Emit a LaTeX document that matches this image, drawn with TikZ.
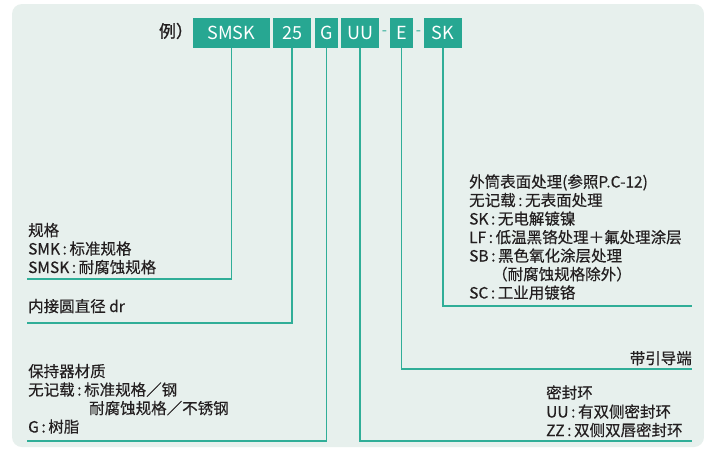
\documentclass[tikz,border=0pt]{standalone}
\usepackage{fontspec}
\setmainfont{Noto Sans CJK SC}
\newfontfamily\medfont{Noto Sans CJK SC}[FakeBold=0.35]
\newfontfamily\boldfont{Noto Sans CJK SC}[FakeBold=1.2]
\definecolor{panelbg}{HTML}{E7F0ED}
\definecolor{boxteal}{HTML}{27A792}
\definecolor{lineteal}{HTML}{30AE98}
\definecolor{textdark}{HTML}{231F20}
\begin{document}
\begin{tikzpicture}[x=1pt,y=-1pt,
  codebox/.style={fill=boxteal, text=white, inner sep=0pt, minimum height=30pt,
    font=\fontsize{18}{18}\selectfont, anchor=center},
  desc/.style={anchor=base west, inner sep=0pt, font=\medfont\fontsize{15.5}{18.5}\selectfont, text=textdark},
  descr/.style={desc, anchor=base east},
  dashtxt/.style={inner sep=0pt, font=\fontsize{15}{15}\selectfont, text=lineteal, anchor=center},
  leader/.style={draw=lineteal, line width=1.6pt}]
\useasboundingbox (0,0) rectangle (704,451);
\fill[white] (0,0) rectangle (704,451);
\fill[panelbg, rounded corners=10pt] (12,4) rectangle (704,447);

% code boxes
\node[desc, anchor=center, font=\boldfont\fontsize{17}{17}\selectfont] (ex) at (176,31) {例）};
\node[codebox, minimum width=77pt] (bSMSK) at (231.5,33) {SMSK};
\node[codebox, minimum width=38pt] (b25) at (292,33) {25};
\node[codebox, minimum width=23pt] (bG) at (326.5,33) {G};
\node[codebox, minimum width=38pt] (bUU) at (360,33) {UU};
\node[dashtxt] (d1) at (384.5,33) {-};
\node[codebox, minimum width=23pt] (bE) at (401.5,33) {E};
\node[dashtxt] (d2) at (418.5,33) {-};
\node[codebox, minimum width=38pt] (bSK) at (443,33) {SK};

% line end coordinates
\coordinate (c1) at (27,279);
\coordinate (c2) at (27,323);
\coordinate (c3) at (27,441);
\coordinate (c4) at (692,441);
\coordinate (c5) at (692,369);
\coordinate (c6) at (692,306);

\draw[leader] (bSMSK.south) |- (c1);
\draw[leader] (b25.south) |- (c2);
\draw[leader] (bG.south) |- (c3);
\draw[leader] (bUU.south) |- (c4);
\draw[leader] (bE.south) |- (c5);
\draw[leader] (bSK.south) |- (c6);

% left groups
\node[desc] (t11) at (28,236) {规格};
\node[desc] (t12) at (28,254.5) {SMK\,:\,标准规格};
\node[desc] (t13) at (28,273) {SMSK\,:\,耐腐蚀规格};

\node[desc] (t21) at (28,312) {内接圆直径 dr};

\node[desc] (t31) at (28,377) {保持器材质};
\node[desc] (t32) at (28,395.5) {无记载\,:\,标准规格／钢};
\node[desc] (t33) at (89,414) {耐腐蚀规格／不锈钢};
\node[desc] (t34) at (28,432.5) {G\,:\,树脂};

% right groups
\node[desc] (r1) at (469,187.5) {外筒表面处理(参照P.C-12)};
\node[desc] (r2) at (469,206) {无记载\,:\,无表面处理};
\node[desc] (r3) at (469,224.5) {SK\,:\,无电解镀镍};
\node[desc] (r4) at (469,243) {LF\,:\,低温黑铬处理＋氟处理涂层};
\node[desc] (r5) at (469,261.5) {SB\,:\,黑色氧化涂层处理};
\node[desc] (r6) at (492,280) {（耐腐蚀规格除外）};
\node[desc] (r7) at (469,298.5) {SC\,:\,工业用镀铬};

\node[descr] (e1) at (692,364) {带引导端};

\node[desc] (s1) at (546,398.5) {密封环};
\node[desc] (s2) at (546,417.5) {UU\,:\,有双侧密封环};
\node[desc] (s3) at (546,436) {ZZ\,:\,双侧双唇密封环};
\end{tikzpicture}
\end{document}
